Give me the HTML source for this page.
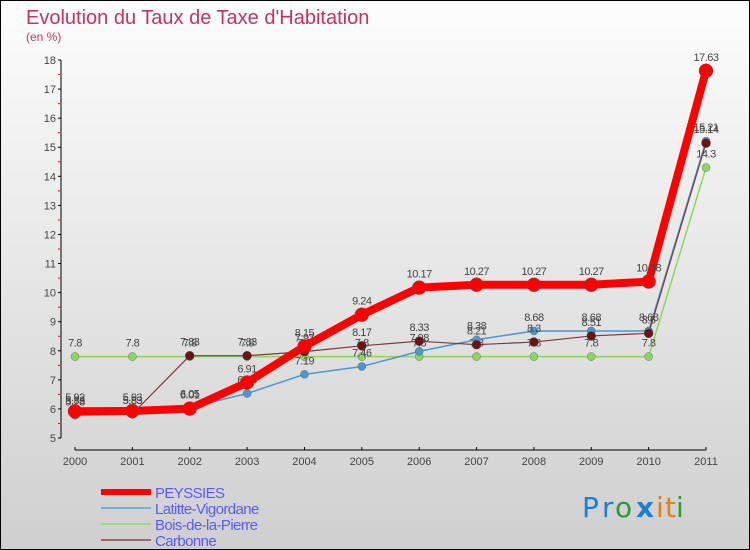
<!DOCTYPE html>
<html><head><meta charset="utf-8"><style>
body{margin:0;width:750px;height:550px;overflow:hidden;font-family:"Liberation Sans",sans-serif}
svg{display:block}
</style></head><body>
<svg id="c" width="750" height="550" xmlns="http://www.w3.org/2000/svg">
<defs><linearGradient id="bg" x1="0" y1="0" x2="0" y2="1"><stop offset="0" stop-color="#fdfdfd"/><stop offset="1" stop-color="#cfcfcf"/></linearGradient></defs>
<rect x="0.5" y="0.5" width="749" height="549" fill="url(#bg)" stroke="#000"/>
<text x="26" y="24" font-size="20" fill="#c8325f">Evolution du Taux de Taxe d'Habitation</text>
<text x="26" y="41" font-size="12" fill="#c8325f">(en %)</text>
<g id="axes"></g><g id="series"></g><g id="legend"></g>
<g font-size="28" font-family="'DejaVu Sans',sans-serif">
<text x="582" y="517" fill="#1c7fd1">P</text><text x="602" y="517" fill="#1c7fd1">r</text>
<text x="615" y="517" fill="#2a9a3a">o</text><text x="636" y="517" fill="#1c7fd1" font-weight="bold">x</text>
<text x="656" y="517" fill="#ee7a12">i</text><text x="665" y="517" fill="#ee7a12">t</text><text x="676" y="517" fill="#2a9a3a">i</text>
</g>
</svg>
<script>
const years=[2000,2001,2002,2003,2004,2005,2006,2007,2008,2009,2010,2011];
const yTicks=[5,6,7,8,9,10,11,12,13,14,15,16,17,18];
const peyssies=[5.92,5.93,6.01,6.91,8.15,9.24,10.17,10.27,10.27,10.27,10.38,17.63];
const latitte=[5.78,5.83,6.05,6.53,7.19,7.46,7.98,8.38,8.68,8.68,8.68,15.21];
const bois=[7.8,7.8,7.8,7.8,7.8,7.8,7.8,7.8,7.8,7.8,7.8,14.3];
const carbonne=[5.83,5.83,7.83,7.83,7.97,8.17,8.33,8.21,8.3,8.51,8.6,15.14];
const NS="http://www.w3.org/2000/svg";
const xS=i=>75+i*(631/11);
const yS=v=>438-(v-5)*(378/13);
function mk(tag,attrs,parent){const e=document.createElementNS(NS,tag);for(const k in attrs)e.setAttribute(k,attrs[k]);parent.appendChild(e);return e;}
const ax=document.getElementById('axes');
let yl=mk('line',{x1:61,y1:yS(18),x2:61,y2:yS(5),stroke:'#000','stroke-width':1},ax);


let xl=mk('line',{x1:75,y1:450,x2:706,y2:450,stroke:'#000','stroke-width':1},ax);


yTicks.forEach(v=>{const y=yS(v);
 mk('line',{x1:58,y1:y,x2:61,y2:y,stroke:'#000'},ax);
 if(v<18)mk('line',{x1:58,y1:y-14.5,x2:60,y2:y-14.5,stroke:'#e00'},ax);
 const t=mk('text',{x:56,y:y+4,'font-size':11,fill:'#444','text-anchor':'end'},ax);t.textContent=v;
 
 });
years.forEach((yr,i)=>{const x=xS(i);
 mk('line',{x1:x,y1:447,x2:x,y2:450,stroke:'#000'},ax);
 const t=mk('text',{x:x,y:465,'font-size':11,fill:'#444','text-anchor':'middle'},ax);t.textContent=yr;
 
 });
const sg=document.getElementById('series');
const defs=[
 {d:bois,c:'#88d85a',w:1.5,r:4,n:'bois-de-la-pierre'},
 {d:latitte,c:'#4a98d0',w:1.5,r:4,n:'latitte-vigordane'},
 {d:carbonne,c:'#7a3a3a',w:1.2,r:4.5,n:'carbonne',fill:'#6a1515'},
 {d:peyssies,c:'#ff0000',w:8,r:7,n:'peyssies'}];
defs.forEach(s=>{
 const g=mk('g',{},sg);
 
 
 const pl=mk('polyline',{points:s.d.map((v,i)=>xS(i)+','+yS(v)).join(' '),fill:'none',stroke:s.c,'stroke-width':s.w,'stroke-linejoin':'round'},g);
 
 
 s.d.forEach((v,i)=>{
  const p=mk('circle',{cx:xS(i),cy:yS(v),r:s.r,fill:s.fill||s.c,stroke:'#555','stroke-width':0.4},g);
  
  
  const t=mk('text',{x:xS(i),y:yS(v)-10,'font-size':11,fill:'#444','text-anchor':'middle','letter-spacing':'-0.5'},g);
  t.textContent=v;
  
  
 });
});
const lg=document.getElementById('legend');
const items=[['PEYSSIES','#ff0000',6],['Latitte-Vigordane','#7aaed4',2],['Bois-de-la-Pierre','#9bd880',2],['Carbonne','#9a6a6a',2]];
items.forEach((it,k)=>{const y=492+k*16;
 const g=mk('g',{},lg);
 
 
 mk('line',{x1:101,y1:y,x2:151,y2:y,stroke:it[1],'stroke-width':it[2]},g);
 const t=mk('text',{x:155,y:y+6,'font-size':15,fill:'#5a5aff','letter-spacing':'-0.6'},g);t.textContent=it[0];
});
</script>
</body></html>
